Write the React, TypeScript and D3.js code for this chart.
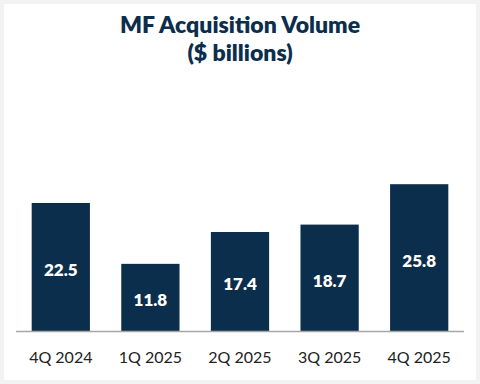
import React, { useEffect, useRef } from 'react';
import * as d3 from 'd3';

const quarters = ['4Q 2024', '1Q 2025', '2Q 2025', '3Q 2025', '4Q 2025'];
const volumes = [22.5, 11.8, 17.4, 18.7, 25.8];
const titleLines = ['MF Acquisition Volume', '($ billions)'];

const NAVY = '#0b2e4c';
const FONT = "'Source Sans Pro', Lato, 'Noto Sans', sans-serif";

export default function App() {
  const svgRef = useRef<SVGSVGElement>(null);

  useEffect(() => {
    if (!svgRef.current) return;
    const W = 480;
    const H = 384;
    const svg = d3.select(svgRef.current);
    svg.selectAll('*').remove();

    // frame
    svg.append('rect').attr('width', W).attr('height', H).attr('fill', '#f3f3f3');
    svg
      .append('rect')
      .attr('x', 4)
      .attr('y', 4)
      .attr('width', W - 8)
      .attr('height', H - 8)
      .attr('fill', '#ffffff');

    // title
    svg
      .append('g')
      .selectAll('text')
      .data(titleLines)
      .enter()
      .append('text')
      .attr('x', W / 2)
      .attr('y', (_, i) => 33 + i * 28)
      .attr('text-anchor', 'middle')
      .attr('font-family', FONT)
      .attr('font-weight', 800)
      .attr('font-size', 23)
      .attr('fill', NAVY)
      .text((d) => d);

    const left = 16;
    const right = 464;
    const baseY = 331;

    const x = d3
      .scaleBand<string>()
      .domain(quarters)
      .range([left, right])
      .paddingInner(0.35)
      .paddingOuter(0.175);

    const y = d3.scaleLinear().domain([0, 30]).range([baseY, baseY - 170.7]);

    const data = quarters.map((q, i) => ({ q, v: volumes[i] }));

    const bars = svg.append('g');
    bars
      .selectAll('rect')
      .data(data)
      .enter()
      .append('rect')
      .attr('x', (d) => x(d.q) || 0)
      .attr('width', x.bandwidth())
      .attr('y', (d) => y(d.v))
      .attr('height', (d) => baseY - y(d.v))
      .attr('fill', NAVY);

    bars
      .selectAll('text')
      .data(data)
      .enter()
      .append('text')
      .attr('x', (d) => (x(d.q) || 0) + x.bandwidth() / 2)
      .attr('y', (d) => (y(d.v) + baseY) / 2 + 3)
      .attr('dy', '0.35em')
      .attr('text-anchor', 'middle')
      .attr('font-family', FONT)
      .attr('font-weight', 800)
      .attr('font-size', 17)
      .attr('fill', '#ffffff')
      .text((d) => d.v.toFixed(1));

    // baseline
    svg
      .append('line')
      .attr('x1', left)
      .attr('x2', right)
      .attr('y1', baseY + 0.5)
      .attr('y2', baseY + 0.5)
      .attr('stroke', '#a6a6a6')
      .attr('stroke-width', 1.5);

    // category labels
    const axis = svg
      .append('g')
      .attr('transform', `translate(0,${baseY})`)
      .call(d3.axisBottom(x).tickSize(0).tickPadding(21));
    axis.select('.domain').remove();
    axis
      .selectAll('text')
      .attr('font-family', FONT)
      .attr('font-size', 16)
      .attr('fill', '#222222');
  }, []);

  return (
    <svg
      ref={svgRef}
      width={480}
      height={384}
      style={{ position: 'absolute', left: 0, top: 0 }}
    />
  );
}
